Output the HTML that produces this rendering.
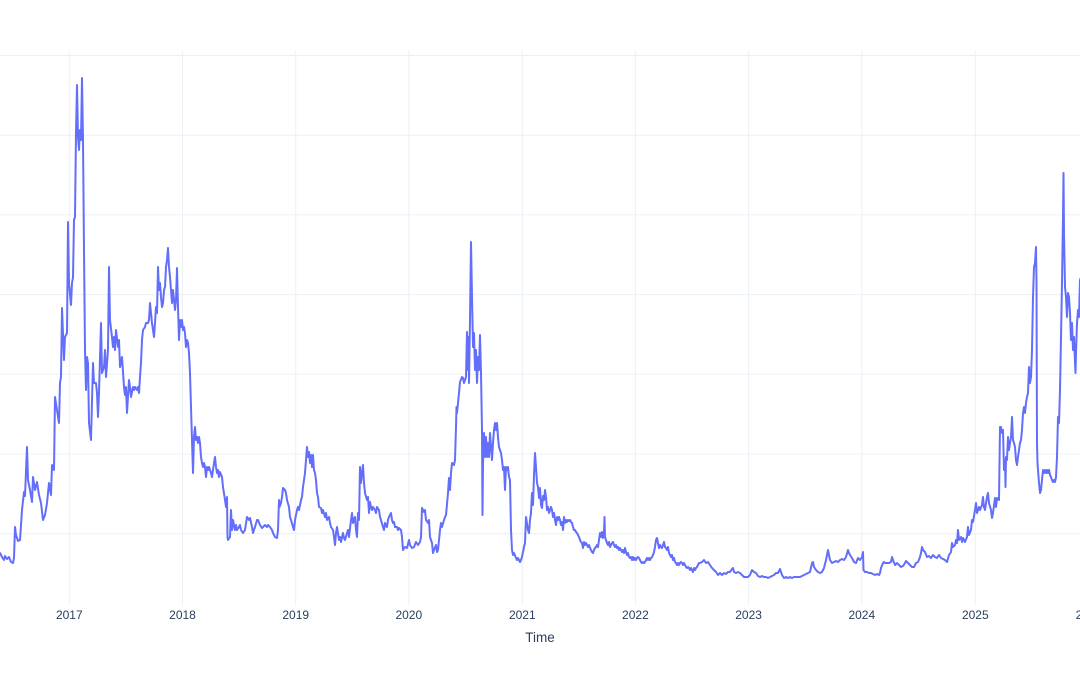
<!DOCTYPE html>
<html>
<head>
<meta charset="utf-8">
<style>
html,body{margin:0;padding:0;background:#fff;}
svg{display:block;}
text{font-family:"Liberation Sans","DejaVu Sans",sans-serif;fill:#2a3f5f;}
</style>
</head>
<body>
<svg width="1080" height="675" viewBox="0 0 1080 675" xmlns="http://www.w3.org/2000/svg">
<rect x="0" y="0" width="1080" height="675" fill="#ffffff"/>
<g stroke="#ebf0f8" stroke-width="1" fill="none">
<line x1="0" y1="55.5" x2="1080" y2="55.5"/>
<line x1="0" y1="135.2" x2="1080" y2="135.2"/>
<line x1="0" y1="214.9" x2="1080" y2="214.9"/>
<line x1="0" y1="294.6" x2="1080" y2="294.6"/>
<line x1="0" y1="374.3" x2="1080" y2="374.3"/>
<line x1="0" y1="454" x2="1080" y2="454"/>
<line x1="0" y1="533.7" x2="1080" y2="533.7"/>
<line x1="69.3" y1="51" x2="69.3" y2="605"/>
<line x1="182.5" y1="51" x2="182.5" y2="605"/>
<line x1="295.7" y1="51" x2="295.7" y2="605"/>
<line x1="408.8" y1="51" x2="408.8" y2="605"/>
<line x1="522.3" y1="51" x2="522.3" y2="605"/>
<line x1="635.4" y1="51" x2="635.4" y2="605"/>
<line x1="748.6" y1="51" x2="748.6" y2="605"/>
<line x1="861.8" y1="51" x2="861.8" y2="605"/>
<line x1="975.3" y1="51" x2="975.3" y2="605"/>
</g>
<polyline fill="none" stroke="#636efa" stroke-width="2" stroke-linejoin="round" stroke-linecap="round" points="
-2,555 0,553 2,557 4,560 5,556 7,559 9,557 11,562 13,563 14,558 15,527 16,535 18,541 20,540 22,510 24,492 25,496 27,447 28,480 29,485 30,490 32,502 33,477 35,490 37,482 39,495 41,503 43,520 45,515 47,503 49,483 51,495 52,465 54,470 55,397 57,410 59,423 60,383 61,377 62,308 64,360 65,337 67,333 68,222 69,283 71,305 72,283 73,277 74,220 75,217 76,133 77,85 78,137 79,150 80,130 81,140 82,78 83,140 84,250 85,350 86,390 87,357 88,363 89,423 91,440 93,363 94,383 96,383 97,393 98,417 99,393 101,323 102,373 104,367 105,350 106,377 108,350 109,267 110,320 112,337 113,347 114,337 115,350 116,330 118,347 119,340 120,367 122,357 124,387 125,395 126,387 127,413 129,380 130,387 131,397 133,387 134,390 135,387 137,390 138,387 139,393 140,377 141,363 142,340 143,330 145,327 146,323 148,323 149,320 150,303 151,313 152,323 153,330 154,337 155,323 156,307 157,313 158,267 159,290 160,283 161,297 162,307 163,303 164,290 165,287 166,267 167,260 168,248 169,267 170,277 171,290 172,303 173,290 174,300 175,310 176,300 177,268 178,307 179,340 180,320 181,327 182,320 183,330 184,327 185,333 186,347 187,340 188,343 189,353 190,373 191,407 192,440 193,473 194,437 195,427 196,440 197,437 198,443 199,437 200,443 201,457 202,463 203,467 204,463 205,467 206,477 207,467 208,470 209,467 210,470 211,473 212,477 213,470 214,463 215,457 216,467 217,473 218,470 219,477 220,472 222,477 223,487 225,500 226,507 227,497 227.5,537 228,540 230,537 231,510 232,530 233,520 235,530 236,525 237,530 239,527 240,525 241,530 243,533 245,530 247,517 249,520 250,518 252,527 253,533 255,527 257,520 258,520 260,525 262,528 263,527 265,525 267,527 268,525 270,527 272,530 273,533 275,537 277,538 278,530 279,500 279.5,507 281,503 282,497 283,488 285,490 286,493 287,500 289,507 290,517 291,520 293,527 294,530 295,520 297,510 298,507 299,510 301,500 302,497 303,487 305,473 306,460 307,447 308,457 309,452 310,463 311,455 312,467 313,455 314,470 315,473 316,480 317,493 318,497 319,507 321,508 322,513 323,510 325,517 326,513 327,520 329,517 330,523 331,527 333,530 334,537 335,545 336,533 337,527 339,540 340,537 341,542 343,533 344,538 345,540 347,533 348,530 349,537 351,520 352,513 353,523 355,517 356,530 357,537 358,513 359,520 360,467 361,483 362,473 363,465 364,483 365,493 367,500 368,497 369,513 370,502 371,507 372,510 373,507 375,510 376,513 377,507 379,510 380,517 381,520 383,527 384,530 385,523 387,527 388,520 389,517 391,513 392,520 393,523 394,522 395,527 397,527 398,530 399,528 401,530 402,537 403,550 404,548 405,547 407,548 409,540 410,545 412,548 414,547 416,542 418,545 420,542 421,537 422,508 424,512 425,510 426,520 428,523 429,520 430,537 432,543 433,553 434,550 436,545 437,552 438,550 440,530 441,523 442,527 444,520 445,517 446,515 448,493 449,478 450,490 451,473 452,463 454,465 455,460 456,427 456.5,407 457,413 458,403 459,393 460,382 462,377 463,378 464,383 465,380 466,377 467,332 468,370 468.5,337 469,383 470,320 471,242 472,297 473,347 474,333 475,370 476,350 477,383 478,357 479,370 480,335 481,373 482,430 482.5,515 483,463 484,433 485,457 486,437 487,457 488,443 489,457 490,433 491,447 492,460 493,443 494,430 495,423 496,430 497,423 498,437 499,447 500,450 501,453 502,460 503,470 504,467 505,490 506,467 507,470 508,467 509,477 510,480 511,530 512,550 513,555 514,553 516,558 517,560 518,558 520,562 521,560 522,557 524,547 525,543 526,517 528,530 529,533 530,520 531,513 532,493 533,505 534,475 535,453 536,467 537,483 538,487 539,498 540,488 541,505 542,508 543,496 544,500 545,490 546,497 547,510 548,507 549,513 550,510 551,507 552,510 553,517 554,513 555,520 556,525 557,517 558,520 559,517 560,520 561,525 562,522 563,530 564,517 565,523 566,520 567,522 568,520 569,521 570,520 571,522 572,523 573,527 574,530 575,530 576,532 577,533 578,535 579,537 580,540 581,542 582,543 583,548 584,542 585,545 586,543 587,545 588,547 589,545 590,548 591,550 592,552 593,553 594,550 595,548 596,547 597,545 598,547 599,540 600,533 601,537 602,532 603,538 604,532 604.5,517 605,537 606,540 607,543 608,545 609,542 610,547 611,545 612,543 613,542 614,545 615,547 616,545 617,548 618,547 619,550 620,548 621,550 622,552 623,550 624,553 625,548 626,552 627,555 628,553 629,557 630,558 631,557 632,560 633,557 634,560 635,558 636,560 637,558 638,557 639,558 640,560 641,562 642,563 643,562 644,563 645,562 646,560 647,558 648,560 649,558 650,560 651,558 652,557 653,555 654,552 655,547 656,540 657,538 658,543 659,548 660,545 661,547 662,548 663,545 664,542 665,547 666,548 667,550 668,547 669,553 670,555 671,557 672,555 673,560 674,558 675,562 676,563 677,565 678,563 679,565 680,563 681,562 682,563 683,565 684,563 685,565 686,567 687,568 688,567 689,568 690,570 691,568 692,570 693,572 694,568 695,570 696,568 697,567 698,565 699,563 700,563 702,562 704,560 706,563 708,562 710,565 712,568 714,570 716,572 718,575 720,573 722,575 724,573 726,574 728,572 730,572 732,569 733,568 734,572 736,573 738,572 740,573 742,575 744,577 746,577 748,577 750,575 752,570 754,572 756,573 758,576 760,577 762,576 764,577 766,577 768,578 770,577 772,576 774,575 776,573 778,573 780,569 781,572 782,575 784,578 786,577 788,578 790,577 792,578 794,577 796,577 798,577 800,577 802,576 804,575 806,574 808,573 810,572 812,563 813,562 814,567 816,570 818,572 820,573 822,572 824,568 826,560 828,550 829,555 830,560 832,563 834,562 836,561 838,562 840,560 842,559 844,560 846,557 848,550 849,553 850,555 852,558 854,562 856,563 858,558 860,560 862,557 863,552 863.5,570 865,572 867,572 869,573 871,573 873,574 875,575 877,574 879,575 880,573 881,568 883,563 884,562 885,563 887,563 889,563 891,562 892,557 893,560 895,565 897,563 899,565 901,567 903,566 905,563 906,561 908,563 910,565 912,567 914,567 916,563 918,562 920,557 921,553 922,547 923,550 925,552 927,557 929,556 931,558 933,555 935,557 937,558 939,555 941,558 943,559 945,560 947,562 949,555 951,552 952,543 953,547 955,545 956,540 957,543 958,530 959,540 961,537 962,542 963,538 965,542 967,537 968,527 969,535 971,530 972,520 973,522 975,510 976,503 977,513 979,507 980,510 982,505 983,497 984,507 985,510 987,497 988,493 989,503 991,510 992,518 993,513 995,498 996,507 997,498 999,500 1000,427 1001,427 1002,433 1003,430 1004,470 1005,460 1005.5,487 1006,457 1007,460 1008,437 1009,450 1010,443 1011,437 1012,417 1013,440 1014,443 1015,447 1016,460 1017,465 1018,457 1019,450 1020,443 1021,440 1022,430 1023,413 1024,407 1025,413 1026,403 1027,397 1028,393 1029,367 1030,383 1031,377 1032,350 1033,297 1034,267 1035,263 1036,247 1036.5,283 1037,443 1037.5,463 1038,470 1039,483 1040,493 1041,490 1042,480 1043,470 1044,473 1045,470 1046,473 1047,470 1048,473 1049,470 1050,475 1051,477 1052,480 1053,482 1054,480 1055,482 1056,477 1057,457 1057.5,437 1058,417 1059,423 1060,390 1061,337 1062,283 1063,217 1063.5,173 1064,233 1065,287 1066,297 1067,317 1068,293 1069,297 1070,313 1071,340 1072,323 1073,350 1074,337 1075,363 1075.5,373 1076,353 1077,323 1078,310 1079,317 1080,280 1082,275"/>
<g font-size="12" text-anchor="middle">
<text x="69.3" y="619">2017</text>
<text x="182.5" y="619">2018</text>
<text x="295.7" y="619">2019</text>
<text x="408.8" y="619">2020</text>
<text x="522.3" y="619">2021</text>
<text x="635.4" y="619">2022</text>
<text x="748.6" y="619">2023</text>
<text x="861.8" y="619">2024</text>
<text x="975.3" y="619">2025</text>
<text x="1089" y="619">2026</text>
</g>
<text x="540" y="642" font-size="13.5" text-anchor="middle">Time</text>
</svg>
</body>
</html>
